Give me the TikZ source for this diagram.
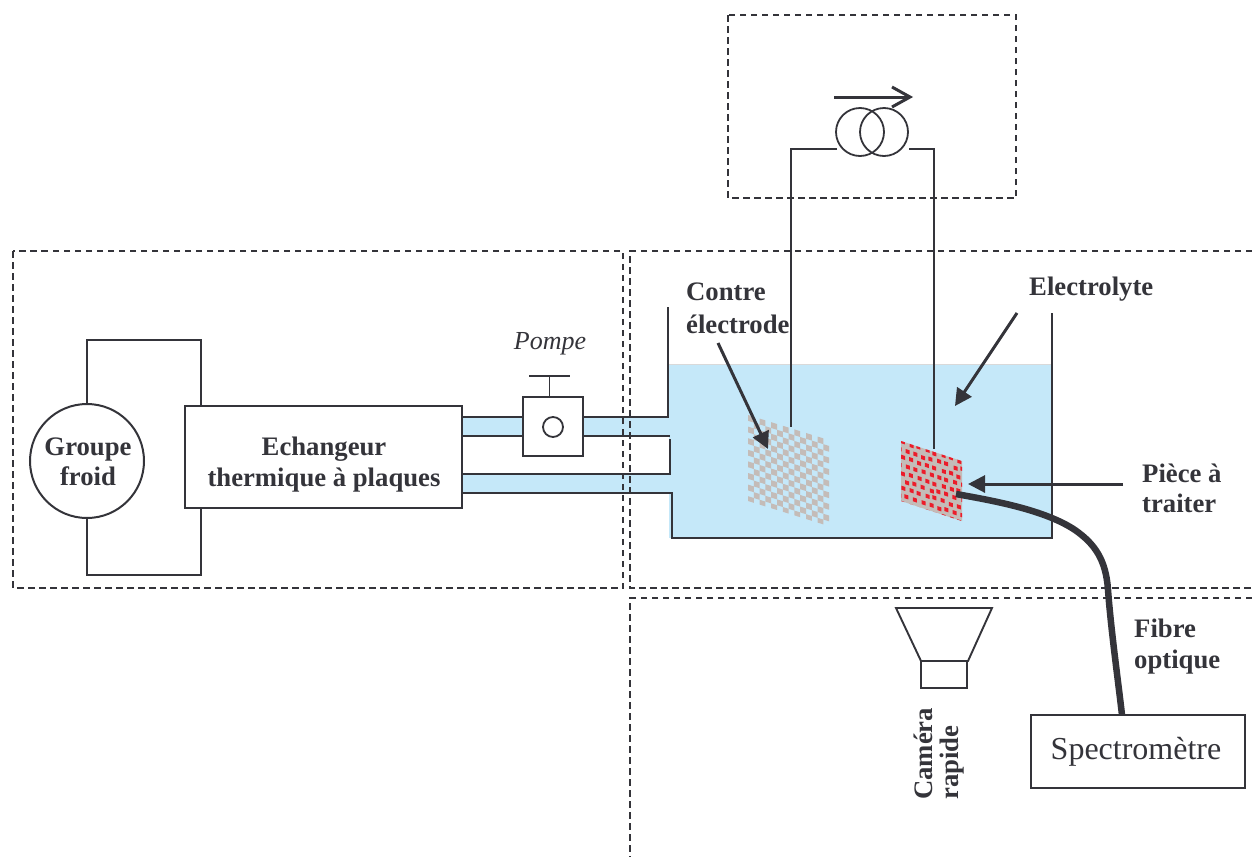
\documentclass[tikz,border=0pt]{standalone}
\usepackage{fontspec}
\setmainfont{Liberation Serif}
\usetikzlibrary{arrows.meta}
\definecolor{ink}{RGB}{52,52,58}
\definecolor{water}{RGB}{197,232,249}
\definecolor{chk}{RGB}{196,188,184}
\definecolor{redchk}{RGB}{236,28,42}
\tikzset{
  x=1pt,y=-1pt,
  wire/.style={draw=ink,line width=1.9pt,line join=miter},
  dash box/.style={draw=ink,line width=1.6pt,dash pattern=on 6.5pt off 4.5pt},
  box/.style={draw=ink,line width=2pt,fill=white,inner sep=0pt,outer sep=0pt},
  arrowline/.style={draw=ink,line width=3pt,-{Triangle[length=17pt,width=17pt]}},
  lab/.style={text=ink,font=\fontsize{26.7}{30}\selectfont\bfseries,align=center,inner sep=0pt},
}
\begin{document}
\begin{tikzpicture}
\useasboundingbox (0,0) rectangle (1252,857);
% water
\fill[water] (669,364) rectangle (1052,538);
\fill[water] (462,417) rectangle (669,436);
\fill[water] (462,474) rectangle (672,493);
\draw[black!15,line width=1pt] (669,364) -- (1052,364);
% dashed zones
\coordinate (za) at (13,251);\coordinate (zb) at (623,588);
\draw[dash box] (za) rectangle (zb);
\draw[dash box] (728,15) rectangle (1016,198);
\coordinate (zc1) at (1252,251);\coordinate (zc2) at (630,251);\coordinate (zc3) at (630,588);\coordinate (zc4) at (1252,588);
\draw[dash box] (zc1) -- (zc2) -- (zc3) -- (zc4);
\coordinate (zd1) at (1252,598);\coordinate (zd2) at (630,598);\coordinate (zd3) at (630,857);
\draw[dash box] (zd1) -- (zd2) -- (zd3);
% checker counter electrode
\begin{scope}[shift={(748,415)},yslant=-0.31]
  \foreach \i in {0,...,13}{\foreach \j in {0,...,14}{
    \pgfmathtruncatemacro{\m}{mod(\i+\j,2)}
    \ifnum\m=0 \fill[chk] ({\i*5.8},{\j*5.8}) rectangle ({min(81,\i*5.8+5.8)},{min(86,\j*5.8+5.8)});\fi
  }}
\end{scope}
% work piece
\begin{scope}[shift={(901,441)},yslant=-0.33]
  \fill[chk] (0,0) rectangle (61,60);
  \begin{scope}
  \clip (0,0) rectangle (61,60);
  \pgfmathsetseed{17}
  \foreach \j in {0,...,8}{\foreach \i in {-1,...,8}{
    \pgfmathsetmacro{\px}{\i*8+mod(\j,2)*4+0.9*rand}
    \pgfmathsetmacro{\py}{\j*7.6+0.9*rand-1}
    \fill[redchk] (\px,\py) rectangle ++(4,4);
  }}
  \end{scope}
\end{scope}
% cooling loop
\node[box,minimum size=114pt,circle,align=center] (gf) at (87,461) {};
\node[lab] at (88,462) {Groupe\\froid};
\node[box,minimum width=277pt,minimum height=102pt] (ech) at (323.5,457) {};
\node[lab] at (324,465) {Echangeur\\[1pt]thermique à plaques};
\coordinate (w1) at (87,340);\coordinate (w2) at (201,340);\coordinate (w3) at (87,575);\coordinate (w4) at (201,575);
\draw[wire] (gf.north) -- (w1) -- (w2) -- (w2 |- ech.north);
\draw[wire] (gf.south) -- (w3) -- (w4) -- (w4 |- ech.south);
% pipes and tank
\coordinate (p1) at (462,417);\coordinate (p2) at (462,436);\coordinate (p3) at (462,474);\coordinate (p4) at (462,493);
\coordinate (t1) at (668,307);\coordinate (t2) at (668,417);\coordinate (t3) at (670,436);
\coordinate (t4) at (670,439);\coordinate (t5) at (670,474);\coordinate (t6) at (672,493);
\coordinate (t7) at (672,538);\coordinate (t8) at (1052,538);\coordinate (t9) at (1052,313);
\draw[wire] (t1) -- (t2) -- (p1);
\draw[wire] (p2) -- (t3);
\draw[wire] (t4) -- (t5) -- (p3);
\draw[wire] (p4) -- (t6) -- (t7) -- (t8) -- (t9);
% pump
\node[box,minimum width=60pt,minimum height=59pt] (pump) at (553,426.5) {};
\node[draw=ink,line width=1.8pt,circle,minimum size=20pt,inner sep=0pt] (pc) at (553,427) {};
\coordinate (h1) at (549.5,376);\coordinate (h2) at (529,376);\coordinate (h3) at (570,376);
\draw[wire] (h1) -- (h1 |- pump.north);
\draw[wire] (h2) -- (h3);
\node[text=ink,font=\fontsize{26}{28}\selectfont\itshape,inner sep=0pt] at (550,344) {Pompe};
% source
\node[draw=ink,line width=1.8pt,circle,minimum size=48pt,inner sep=0pt] (s1) at (860,132) {};
\node[draw=ink,line width=1.8pt,circle,minimum size=48pt,inner sep=0pt] (s2) at (884,132) {};
\coordinate (a1) at (834,97);\coordinate (a2) at (910,97);\coordinate (a3) at (892,87);\coordinate (a4) at (892,107);
\draw[draw=ink,line width=3pt] (a1) -- (a2);
\draw[draw=ink,line width=3pt,miter limit=3] (a3) -- (a2) -- (a4);
\coordinate (c1) at (837,149);\coordinate (c2) at (791,149);\coordinate (c3) at (791,427);
\coordinate (c4) at (909,149);\coordinate (c5) at (934,149);\coordinate (c6) at (934,449);
\draw[wire] (c1) -- (c2) -- (c3);
\draw[wire] (c4) -- (c5) -- (c6);
% labels & arrows
\node[lab,align=left,anchor=base west] at (686,333) {Contre\\[3pt]électrode};
\node[lab,anchor=base west] at (1029,295) {Electrolyte};
\node[lab,align=left,anchor=base west] at (1142,512) {Pièce à\\traiter};
\coordinate (b1) at (718,343);\coordinate (b2) at (768,449);
\draw[arrowline] (b1) -- (b2);
\coordinate (b3) at (1017,313);\coordinate (b4) at (955,406);
\draw[arrowline] (b3) -- (b4);
\coordinate (b5) at (1123,484);\coordinate (b6) at (968,484);
\draw[arrowline] (b5) -- (b6);
% camera
\coordinate (k1) at (896,608);\coordinate (k2) at (992,608);\coordinate (k3) at (968,661);\coordinate (k4) at (921,661);
\draw[wire] (k1) -- (k2) -- (k3) -- (k4) -- cycle;
\node[box,minimum width=46pt,minimum height=27pt] (cam) at (944,674.5) {};
\node[lab,align=left,rotate=90,anchor=west] at (939,800) {Caméra\\[-4pt]rapide};
% spectro
\node[box,minimum width=214pt,minimum height=73pt,text=ink,font=\fontsize{32}{34}\selectfont] (spec) at (1138,751.5) {\raisebox{3pt}{\hspace*{-4pt}Spectromètre}};
\coordinate (f0) at (956,494);
\coordinate (f1) at (1122,715);
\draw[draw=ink,line width=6.5pt] (f0) .. controls (995,501) and (1045,510) .. (1075,530) .. controls (1095,544) and (1106,560) .. (1108,590) .. controls (1111,630) and (1118,680) .. (f1);
\node[lab,align=left,anchor=base west] at (1134,668) {Fibre\\[1pt]optique};
\end{tikzpicture}
\end{document}
